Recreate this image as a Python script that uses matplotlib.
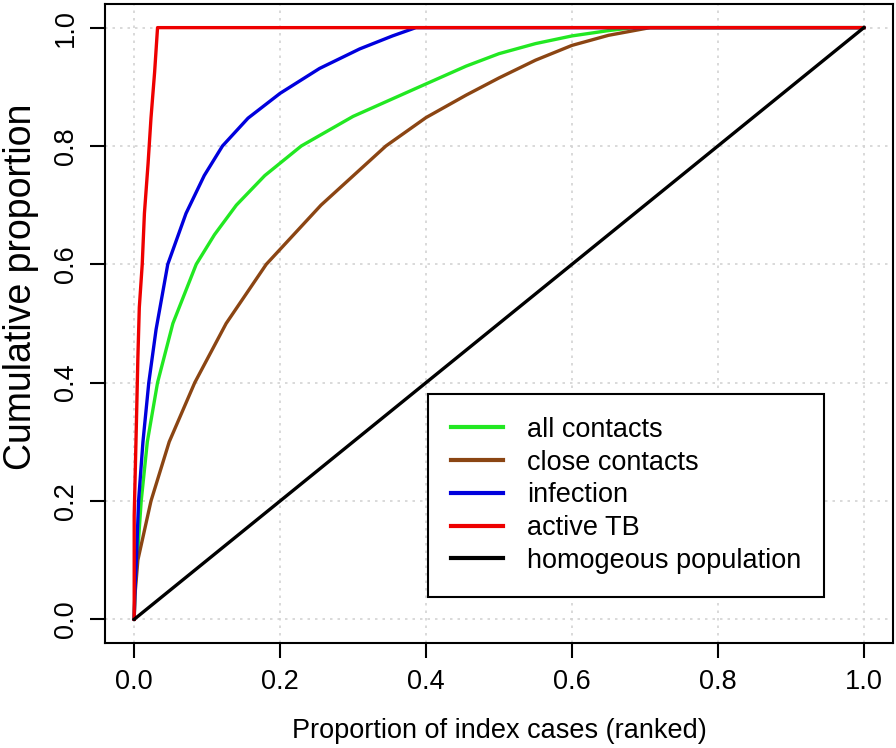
#!/usr/bin/env python3
"""Cumulative proportion of contacts / infection / TB by ranked index cases."""

import matplotlib
matplotlib.use("Agg")
import matplotlib.pyplot as plt

plt.rcParams["font.family"] = ["Liberation Sans", "DejaVu Sans"]

# values
all_x = [0, 0.001, 0.004, 0.0096, 0.018, 0.032, 0.053, 0.085, 0.110, 0.140, 0.179, 0.229,
         0.300, 0.391, 0.455, 0.500, 0.550, 0.600, 0.650, 0.684, 1.0]
all_y = [0, 0.05, 0.10, 0.20, 0.30, 0.40, 0.50, 0.60, 0.65, 0.70, 0.75, 0.80,
         0.85, 0.90, 0.935, 0.956, 0.973, 0.986, 0.995, 1.0, 1.0]

close_x = [0, 0.001, 0.005, 0.023, 0.048, 0.083, 0.126, 0.181, 0.256, 0.345, 0.400,
           0.455, 0.500, 0.550, 0.600, 0.650, 0.707, 1.0]
close_y = [0, 0.04, 0.10, 0.20, 0.30, 0.40, 0.50, 0.60, 0.70, 0.80, 0.848,
           0.886, 0.915, 0.945, 0.970, 0.987, 1.0, 1.0]

inf_x = [0, 0.001, 0.003, 0.006, 0.012, 0.020, 0.030, 0.046, 0.071, 0.096, 0.121,
         0.156, 0.200, 0.254, 0.309, 0.354, 0.386, 1.0]
inf_y = [0, 0.05, 0.10, 0.20, 0.30, 0.40, 0.49, 0.60, 0.686, 0.75, 0.80,
         0.847, 0.889, 0.931, 0.964, 0.986, 1.0, 1.0]

tb_x = [0, 0, 0.003, 0.005, 0.007, 0.011, 0.014, 0.019, 0.023, 0.028, 0.032, 1.0]
tb_y = [0, 0.175, 0.33, 0.44, 0.527, 0.60, 0.686, 0.77, 0.847, 0.925, 1.0, 1.0]

homog_x = [0, 1.0]
homog_y = [0, 1.0]

labels = ["all contacts", "close contacts", "infection", "active TB", "homogeous population"]
colors = ["#22E822", "#8B4513", "#0000DD", "#EE0000", "black"]
ticks = [0.0, 0.2, 0.4, 0.6, 0.8, 1.0]

fig = plt.figure(figsize=(8.96, 7.48), dpi=100)
ax = fig.add_axes([0.1172, 0.1404, 0.8795, 0.8543])

series = [(all_x, all_y), (close_x, close_y), (inf_x, inf_y), (tb_x, tb_y), (homog_x, homog_y)]
for (xs, ys), lab, col in zip(series, labels, colors):
    ax.plot(xs, ys, color=col, linewidth=2.4, label=lab)

ax.set_xlim(-0.04, 1.04)
ax.set_ylim(-0.04, 1.04)
ax.set_xticks(ticks)
ax.set_yticks(ticks)
ax.set_xticklabels([f"{t:.1f}" for t in ticks])
ax.set_yticklabels([f"{t:.1f}" for t in ticks], rotation=90, va="center")
ax.grid(True, color="#D3D3D3", linestyle=(0, (1.5, 3)), linewidth=1.2)
ax.set_axisbelow(True)

ax.tick_params(axis="both", direction="out", length=11, width=1.5, labelsize=19.5, colors="black")
ax.tick_params(axis="x", pad=8)
ax.tick_params(axis="y", pad=8)
for sp in ax.spines.values():
    sp.set_linewidth(1.5)

ax.set_xlabel("Proportion of index cases (ranked)", fontsize=19.5, labelpad=16)
ax.set_ylabel("Cumulative proportion", fontsize=27, labelpad=10)
ax.yaxis.label.set_y(0.557)

leg = ax.legend(
    loc="upper left",
    bbox_to_anchor=(0.41, 0.39),
    fontsize=19.5,
    frameon=True,
    fancybox=False,
    framealpha=1,
    edgecolor="black",
    borderpad=0.85,
    labelspacing=0.25,
    handlelength=1.9,
    handletextpad=0.9,
    borderaxespad=0,
)
leg.get_frame().set_linewidth(1.5)
for h in leg.get_lines():
    h.set_linewidth(3)

fig.savefig("out.png", dpi=100)
